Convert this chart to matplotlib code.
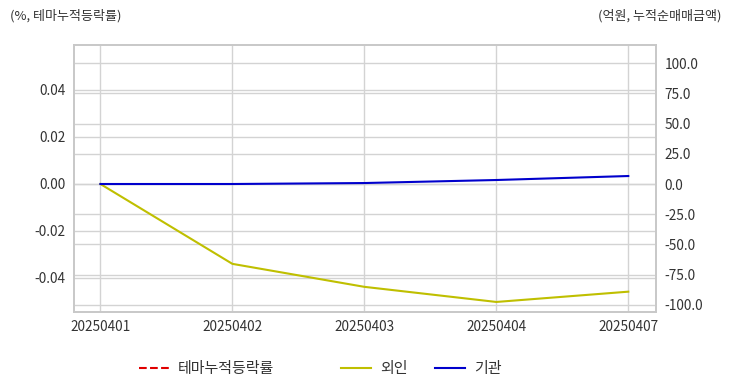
import matplotlib
matplotlib.use("Agg")
import matplotlib.pyplot as plt
from matplotlib.lines import Line2D
import numpy as np

plt.rcParams['font.family'] = ['Noto Sans CJK KR', 'DejaVu Sans']
plt.rcParams['axes.unicode_minus'] = False

dates = ["20250401", "20250402", "20250403", "20250404", "20250407"]
theme_pct = [np.nan, np.nan, np.nan, np.nan, np.nan]
foreign = [0.0, -66.0, -85.0, -97.5, -89.0]
institution = [0.0, 0.0, 0.8, 3.3, 6.6]

left_ticks = [-0.04, -0.02, 0.0, 0.02, 0.04]
right_ticks = [-100.0, -75.0, -50.0, -25.0, 0.0, 25.0, 50.0, 75.0, 100.0]

fig = plt.figure(figsize=(7.32, 3.92), dpi=100)
ax = fig.add_axes([74/732, 1-312/392, (656-74)/732, (312-45)/392])
ax2 = ax.twinx()

x = list(range(len(dates)))
grid_c = '#d3d3d3'
text_c = '#333333'

ax.plot(x, theme_pct, color='#e00000', linestyle='--', linewidth=1.5, zorder=3)
ax2.plot(x, foreign, color='#bfbf00', linewidth=1.5, zorder=3)
ax2.plot(x, institution, color='#0000cc', linewidth=1.5, zorder=4)

ax.set_xlim(-0.2, 4.21)
ax.set_ylim(-0.0545, 0.059)
ax2.set_ylim(-105.8, 114.9)
ax.set_xticks(x)
ax.set_xticklabels(dates)
ax.set_yticks(left_ticks)
ax.set_yticklabels([f"{v:.2f}" for v in left_ticks])
ax2.set_yticks(right_ticks)
ax2.set_yticklabels([f"{v:.1f}" for v in right_ticks])

for a in (ax, ax2):
    a.tick_params(length=0, labelsize=9.8, colors=text_c, pad=6)
    for s in a.spines.values():
        s.set_color('#c8c8c8')
        s.set_linewidth(1.2)
ax.grid(True, color=grid_c, linewidth=1.0)
ax2.grid(True, axis='y', color=grid_c, linewidth=1.0)
ax.set_axisbelow(True)
ax2.set_axisbelow(True)

fig.text(10/732, 1-16/392, "(%, 테마누적등락률)", fontsize=9.4, color=text_c, va='center', ha='left')
fig.text(722/732, 1-16/392, "(억원, 누적순매매금액)", fontsize=9.4, color=text_c, va='center', ha='right')

items = [
    (Line2D([], [], color='#e00000', linestyle='--', linewidth=1.5), "테마누적등락률", 139),
    (Line2D([], [], color='#bfbf00', linewidth=1.5), "외인", 341),
    (Line2D([], [], color='#0000cc', linewidth=1.5), "기관", 435),
]
for h, lab, px in items:
    fig.legend([h], [lab], loc='center left', bbox_to_anchor=(px/732, 1-369/392),
               frameon=False, fontsize=10.8, handlelength=2.0, handletextpad=0.6,
               borderaxespad=0, borderpad=0, labelcolor=text_c)

fig.savefig("out.png", dpi=100, facecolor='white')
